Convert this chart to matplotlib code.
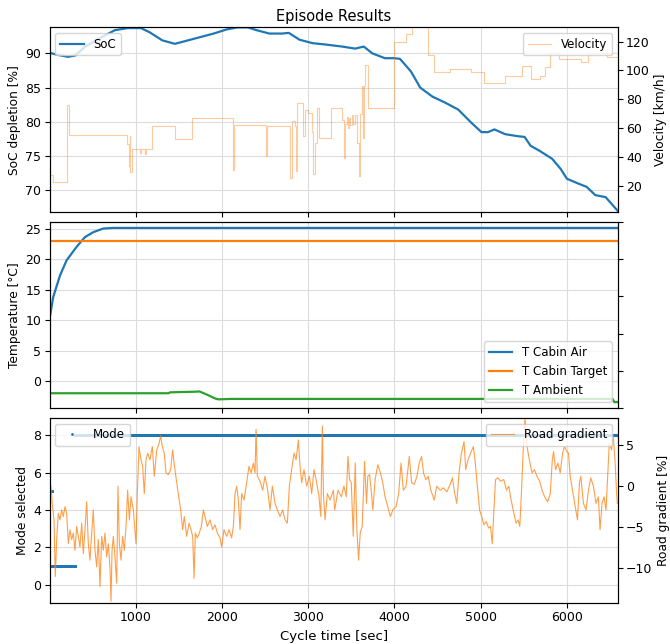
import numpy as np
import matplotlib
matplotlib.use("Agg")
import matplotlib.pyplot as plt

# ---- SoC [%] (top, left axis)
soc_t = [0, 90, 215, 300, 415, 610, 760, 910, 1060, 1160, 1310, 1455, 1605, 1755,
         1905, 2055, 2180, 2300, 2400, 2550, 2700, 2775, 2900, 3050, 3200, 3395,
         3545, 3645, 3745, 3890, 4000, 4065, 4190, 4300, 4440, 4590, 4740, 4890,
         5010, 5085, 5160, 5285, 5435, 5510, 5580, 5680, 5830, 5930, 6000, 6130,
         6230, 6330, 6450, 6590]
soc_val = [90.1, 89.8, 89.5, 89.7, 91.0, 92.4, 93.4, 93.7, 93.7, 93.1, 91.9, 91.4,
           91.9, 92.4, 92.9, 93.5, 93.8, 93.8, 93.4, 92.9, 92.9, 93.0, 92.0, 91.5,
           91.3, 91.0, 90.7, 91.0, 90.0, 89.3, 89.3, 89.2, 87.4, 85.0, 83.7, 82.8,
           81.8, 79.9, 78.5, 78.5, 78.9, 78.2, 77.9, 77.8, 76.5, 75.8, 74.6, 73.1,
           71.7, 71.0, 70.5, 69.3, 69.0, 67.0]

# ---- Velocity [km/h] (top, right axis), step changes
vel_t = [0, 40, 205, 222, 905, 918, 930, 940, 955, 1050, 1065, 1110, 1125, 1185,
         1455, 1655, 2125, 2140, 2512, 2525, 2790, 2810, 2845, 2858, 2875, 2935,
         2965, 3000, 3040, 3060, 3080, 3100, 3125, 3265, 3390, 3415, 3430, 3445,
         3460, 3475, 3490, 3505, 3520, 3540, 3565, 3590, 3605, 3620, 3635, 3645,
         3655, 3690, 4000, 4130, 4200, 4390, 4465, 4640, 4890, 5035, 5285, 5485,
         5580, 5690, 5750, 5810, 5905, 6160, 6250, 6470, 6590]
vel_val = [28, 23, 76, 55.6, 49, 34, 55, 30, 46, 43, 46, 42, 46, 61.5,
           52.8, 67.4, 31, 62, 41, 61.5, 26, 64.8, 61.5, 30.3, 77.5, 54.5,
           72.9, 70.5, 57.2, 28.1, 50, 74.1, 53.4, 74.1, 66, 39.6, 63, 68,
           60, 67, 62, 69, 63, 69, 50, 27, 70, 89, 53, 89,
           104, 74.1, 119.5, 125, 132, 110.7, 98.7, 100.9, 98.7, 91, 96.5, 103,
           94.3, 95.9, 102.6, 111.8, 107.6, 106, 111.8, 109.5, 109.5]

# ---- Temperatures [°C] (middle)
cabin_t = [1, 44, 122, 199, 315, 412, 508, 624, 740, 1500, 3000, 4500, 6590]
cabin_val = [10.2, 13.8, 17.3, 19.8, 22.0, 23.6, 24.4, 25.0, 25.1, 25.1, 25.1, 25.1, 25.1]
target_t = [1, 6590]
target_val = [23.0, 23.0]
amb_t = [1, 1380, 1400, 1690, 1740, 1830, 1920, 1960, 2100, 6530, 6550, 6590]
amb_val = [-1.95, -1.95, -1.8, -1.7, -1.65, -2.2, -2.8, -2.95, -2.88, -2.88, -3.4, -3.4]

# ---- Mode selected (bottom, left axis): segment starts / ends / values
mode_start = [1, 30, 300]
mode_end = [30, 300, 6590]
mode_val = [5, 1, 8]

# ---- Road gradient [%] (bottom, right axis)
grad_t = [6, 18, 33, 53, 68, 84, 103, 122, 142, 161, 180, 200, 219, 238, 258, 277,
          296, 316, 335, 354, 374, 393, 412, 432, 451, 470, 490, 509, 528, 548,
          567, 586, 606, 625, 644, 664, 683, 702, 714, 726, 741, 760, 780, 795,
          811, 830, 849, 869, 888, 907, 927, 946, 973, 1004, 1019, 1039, 1062,
          1081, 1100, 1120, 1139, 1166, 1193, 1216, 1244, 1271, 1290, 1309, 1332,
          1352, 1379, 1406, 1429, 1448, 1476, 1499, 1522, 1545, 1564, 1591, 1619,
          1642, 1661, 1677, 1692, 1715, 1738, 1762, 1785, 1804, 1831, 1862, 1893,
          1920, 1947, 1978, 1997, 2024, 2055, 2082, 2113, 2133, 2152, 2171, 2191,
          2210, 2229, 2256, 2287, 2314, 2338, 2365, 2384, 2396, 2411, 2442, 2473,
          2500, 2531, 2558, 2585, 2616, 2643, 2674, 2705, 2732, 2759, 2782, 2809,
          2836, 2860, 2887, 2906, 2925, 2952, 2983, 3014, 3041, 3068, 3099, 3126,
          3146, 3165, 3177, 3196, 3223, 3254, 3293, 3308, 3346, 3385, 3415, 3442,
          3462, 3481, 3500, 3523, 3546, 3565, 3585, 3604, 3627, 3654, 3677, 3692,
          3712, 3731, 3750, 3777, 3808, 3838, 3865, 3892, 3923, 3954, 3981, 4019,
          4050, 4077, 4104, 4135, 4173, 4200, 4231, 4262, 4288, 4315, 4338, 4365,
          4392, 4423, 4462, 4492, 4531, 4569, 4608, 4646, 4673, 4700, 4723, 4750,
          4777, 4808, 4827, 4854, 4885, 4915, 4935, 4962, 4988, 5012, 5038, 5065,
          5092, 5115, 5135, 5154, 5173, 5200, 5231, 5269, 5300, 5327, 5354, 5385,
          5412, 5435, 5454, 5473, 5492, 5515, 5538, 5565, 5596, 5623, 5654, 5685,
          5712, 5742, 5777, 5808, 5831, 5846, 5869, 5896, 5923, 5950, 5973, 6000,
          6019, 6038, 6065, 6096, 6123, 6146, 6162, 6192, 6223, 6250, 6277, 6308,
          6338, 6365, 6385, 6408, 6431, 6454, 6473, 6492, 6519, 6538, 6558, 6577,
          6585]
grad_val = [-0.65, 0.0, -2.1, -4.1, -11.0, -6.5, -3.3, -4.1, -2.9, -3.7, -2.5, -3.3,
            -7.0, -5.3, -6.5, -5.7, -7.8, -4.9, -6.1, -7.4, -4.5, -8.2, -5.3, -1.9,
            -7.0, -9.0, -5.7, -2.9, -7.8, -9.8, -6.5, -12.2, -6.1, -7.8, -5.7, -8.6,
            -7.0, -9.8, -14.0, -7.8, -6.1, -8.6, -11.8, 0.0, -7.0, -9.0, -6.1, -7.8,
            -4.9, -0.5, -4.1, -1.3, -2.9, -7.0, -0.9, 4.8, 3.2, 2.4, -0.9, 3.2, 4.0,
            3.2, 4.8, 1.2, 4.4, 5.2, 6.1, 4.8, 4.0, 1.6, 1.4, 2.0, 4.4, 2.6, 0.4,
            -1.3, -2.9, -5.3, -3.7, -6.1, -4.5, -5.3, -6.1, -11.2, -5.7, -6.3, -5.7,
            -4.9, -2.9, -3.7, -4.9, -4.1, -5.3, -4.7, -5.7, -6.3, -7.4, -5.3, -6.1,
            -5.3, -6.3, -4.9, -0.9, 0.0, -1.7, -5.3, -0.9, -1.7, 0.4, 2.4, 1.6, 2.8,
            1.6, 6.9, 1.2, 0.6, -0.5, 1.2, -0.5, -2.9, 0.0, -2.1, -2.9, -3.7, -2.9,
            -4.1, -4.5, 0.0, 2.0, 4.0, 3.2, 5.6, 2.4, 0.4, 2.0, 0.0, 1.2, -0.9, 2.0,
            0.4, -1.3, -3.7, 7.3, -0.9, -4.1, -0.9, -1.7, -0.5, -2.9, -0.5, -1.3,
            0.0, -1.3, 3.6, 0.8, 0.4, -6.1, 2.8, -5.3, -9.0, -5.7, -4.9, 3.0, -2.1,
            1.2, 1.4, -0.5, -2.9, 0.8, 2.6, 1.6, 0.4, -1.3, -2.5, -3.7, -2.9, -2.5,
            -0.9, 2.8, -0.5, 0.0, 3.6, 0.4, 0.2, 1.2, 2.8, 3.6, 1.6, 0.8, 1.2, -0.5,
            -1.7, 0.0, -0.5, -0.2, -0.7, 0.2, 1.0, -0.9, -2.1, 1.6, 4.0, 5.4, 2.0,
            3.2, 4.0, 4.8, 3.2, 0.0, -2.9, -3.7, -4.7, -4.3, -5.1, -4.9, -7.0, -2.9,
            0.8, 1.0, 0.6, 0.8, -0.5, 0.0, -1.7, -3.3, -4.5, -4.1, -4.9, -0.9, 4.0,
            8.3, 4.8, 3.2, 1.6, 2.0, 1.2, 0.6, -0.5, -1.3, -1.9, -0.9, 3.2, 4.2, 2.0,
            2.8, 1.6, 4.0, 4.8, 4.2, 4.0, 1.2, -0.5, -2.5, -4.1, 0.4, 1.2, -2.1, -2.9,
            -0.5, 1.0, 0.0, -2.1, -1.3, -5.3, -2.1, -1.3, -2.9, 1.2, 5.2, 4.4, 6.1,
            3.2, -0.9, -2.1]

plt.rcParams['font.family'] = ['Liberation Sans Narrow', 'DejaVu Sans']
label_font = ['DejaVu Sans']

fig, (ax1, ax2, ax3) = plt.subplots(3, 1, sharex=True, figsize=(6.7, 6.44), dpi=100)
fig.subplots_adjust(left=0.0739, right=0.922, top=0.958, bottom=0.0637, hspace=0.055)

grid_kw = dict(color='#dcdcdc', linewidth=0.8)
lab_kw = dict(family=label_font, fontsize=8.8, labelpad=3)

# Top: SoC + velocity
ax1.plot(soc_t, soc_val, color='C0', lw=1.6, label='SoC')
ax1.set_ylim(66.8, 93.85)
ax1.set_ylabel('SoC depletion [%]', **lab_kw)
ax1.set_title('Episode Results', fontsize=10.5, pad=4)
ax1.grid(True, **grid_kw)
ax1.legend(loc='upper left', fontsize=8.5)
ax1b = ax1.twinx()
ax1b.step(vel_t, vel_val, where='post', color='C1', alpha=0.4, lw=0.8, label='Velocity')
ax1b.set_ylim(2, 130)
ax1b.set_yticks([20, 40, 60, 80, 100, 120])
ax1b.set_ylabel('Velocity [km/h]', **lab_kw)
ax1b.legend(loc='upper right', fontsize=8.5)

# Middle: temperatures
ax2.plot(cabin_t, cabin_val, color='C0', lw=1.6, label='T Cabin Air')
ax2.plot(target_t, target_val, color='C1', lw=1.6, label='T Cabin Target')
ax2.plot(amb_t, amb_val, color='C2', lw=1.6, label='T Ambient')
ax2.set_ylim(-4.3, 26.0)
ax2.set_ylabel('Temperature [°C]', **lab_kw)
ax2.grid(True, **grid_kw)
ax2.legend(loc='lower right', fontsize=8.5)
ax2b = ax2.twinx()
ax2b.set_yticklabels([])

# Bottom: mode + road gradient
for s, e, v in zip(mode_start, mode_end, mode_val):
    tt = np.arange(s, e)
    ax3.plot(tt, np.full(len(tt), v), '.', color='C0', ms=2,
             label='Mode' if s == mode_start[0] else None)
ax3.set_ylim(-0.97, 8.94)
ax3.set_yticks([0, 2, 4, 6, 8])
ax3.set_ylabel('Mode selected', **lab_kw)
ax3.set_xlabel('Cycle time [sec]', fontsize=9.5)
ax3.grid(True, **grid_kw)
ax3.legend(loc='upper left', fontsize=8.5)
ax3b = ax3.twinx()
ax3b.plot(grad_t, grad_val, color='C1', lw=0.8, alpha=0.75, label='Road gradient')
ax3b.set_ylim(-14.2, 8.3)
ax3b.set_yticks([-10, -5, 0, 5])
ax3b.set_ylabel('Road gradient [%]', **lab_kw)
ax3b.legend(loc='upper right', fontsize=8.5)

ax3.set_xlim(1, 6590)
ax3.set_xticks([1000, 2000, 3000, 4000, 5000, 6000])

for a in (ax1, ax1b, ax2, ax2b, ax3, ax3b):
    a.tick_params(labelsize=9, pad=2.5)

fig.savefig('out.png', dpi=100)
